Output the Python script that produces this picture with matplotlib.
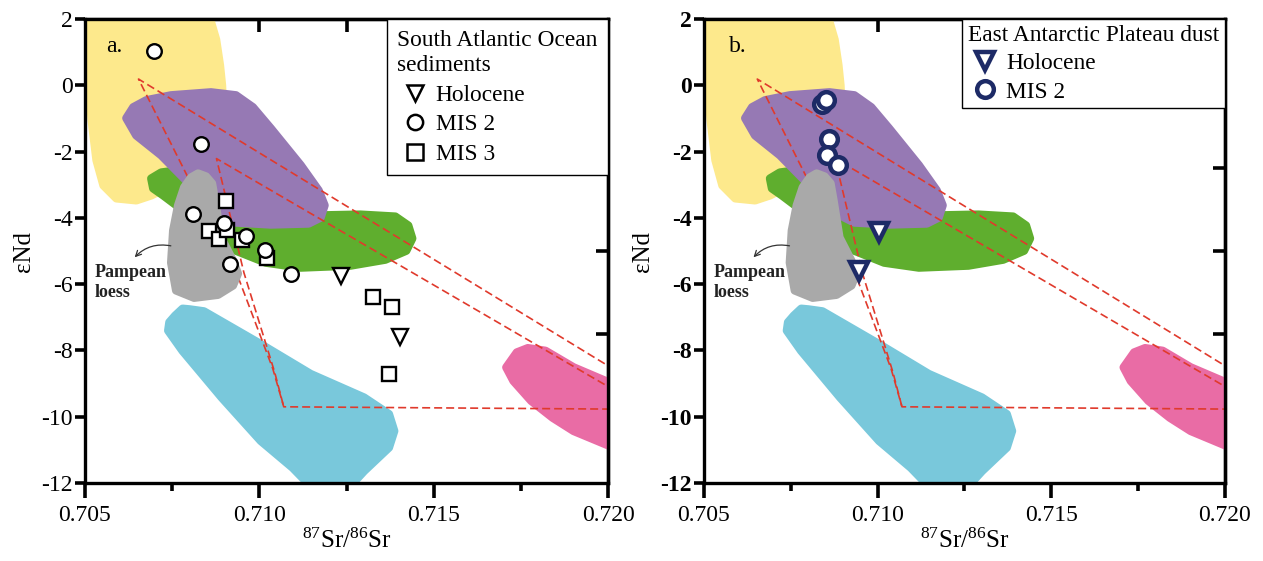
import matplotlib
matplotlib.use("Agg")
import matplotlib.pyplot as plt
from matplotlib.lines import Line2D

plt.rcParams['font.family'] = ['Liberation Serif', 'DejaVu Serif']
plt.rcParams['mathtext.fontset'] = 'custom'
plt.rcParams['mathtext.rm'] = 'Liberation Serif'
plt.rcParams['mathtext.it'] = 'Liberation Serif:italic'
plt.rcParams['axes.unicode_minus'] = False

# ---- source fields (Sr, eNd outlines) ----
yellow_x = [0.7051, 0.70856, 0.70876, 0.70887, 0.70893, 0.70896, 0.70867, 0.70776,
            0.7069, 0.70647, 0.7059, 0.70553, 0.70533, 0.70519, 0.7051]
yellow_y = [2.1, 2.1, 1.38, 0.61, 0.0, -0.76, -1.96, -2.87, -3.32, -3.47, -3.41,
            -3.02, -2.26, -1.05, 0.16]
purple_x = [0.706186, 0.706386, 0.706757, 0.707471, 0.708614, 0.709329, 0.709814,
            0.710329, 0.711186, 0.7117, 0.711871, 0.711757, 0.711414, 0.710329,
            0.709329, 0.708757, 0.7079, 0.707186, 0.706471]
purple_y = [-0.99, -0.66, -0.45, -0.30, -0.21, -0.30, -0.66, -1.30, -2.41, -3.17,
            -3.62, -3.99, -4.17, -4.20, -4.14, -3.84, -2.87, -2.11, -1.51]
green_x = [0.7069, 0.707186, 0.707614, 0.708043, 0.709186, 0.710329, 0.711471,
           0.7129, 0.7139, 0.714271, 0.714386, 0.714214, 0.713614, 0.712614,
           0.711186, 0.710186, 0.709329, 0.708614, 0.7079, 0.707243, 0.706957]
green_y = [-2.81, -2.63, -2.57, -2.63, -3.17, -3.62, -3.93, -3.90, -3.96, -4.23,
           -4.62, -4.99, -5.26, -5.44, -5.50, -5.35, -4.99, -4.53, -3.84, -3.32, -3.11]
gray_x = [0.708243, 0.708471, 0.708643, 0.708729, 0.7089, 0.709243, 0.709386,
          0.709243, 0.708814, 0.708129, 0.707614, 0.707471, 0.707529, 0.707671,
          0.707843, 0.708043]
gray_y = [-2.66, -2.75, -2.96, -3.47, -4.59, -5.29, -5.68, -6.04, -6.32, -6.41,
          -6.19, -5.35, -4.38, -3.62, -3.08, -2.78]
cyan_x = [0.707800, 0.708003, 0.708411, 0.710043, 0.711471, 0.713003, 0.713717,
          0.713869, 0.713717, 0.713003, 0.71247, 0.711614, 0.710957, 0.710043,
          0.70892, 0.707797, 0.707386, 0.707420, 0.707586]
cyan_y = [-6.74, -6.76, -6.82, -7.81, -8.71, -9.42, -9.92, -10.43, -10.93, -11.64,
          -12.25, -12.25, -11.54, -10.73, -9.42, -8.01, -7.40, -7.15, -6.95]
pink_x = [0.717083, 0.717386, 0.7177, 0.718206, 0.719014, 0.720043, 0.720043,
          0.719014, 0.718414, 0.717797, 0.717289]
pink_y = [-8.51, -8.06, -7.93, -8.01, -8.51, -8.97, -10.88, -10.43, -10.03, -9.52, -8.92]

# ---- mixing envelopes (red dashed) ----
outer_x = [0.7202, 0.706534, 0.709386, 0.710386, 0.7107, 0.7202]
outer_y = [-8.59, 0.19, -5.77, -8.55, -9.70, -9.77]
inner_x = [0.7202, 0.708771, 0.709557, 0.710443, 0.7107]
inner_y = [-9.21, -2.21, -5.65, -8.67, -9.70]

# ---- panel a: South Atlantic Ocean sediments ----
holo_a_x = [0.712343, 0.714023]
holo_a_y = [-5.74, -7.59]
mis2_a_x = [0.70699, 0.708323, 0.708094, 0.709, 0.709629, 0.710151, 0.709171, 0.710914]
mis2_a_y = [1.05, -1.76, -3.88, -4.16, -4.56, -4.96, -5.39, -5.69]
mis3_a_x = [0.709043, 0.708549, 0.708834, 0.709071, 0.709491, 0.710234,
            0.713263, 0.713806, 0.713709]
mis3_a_y = [-3.50, -4.38, -4.63, -4.35, -4.68, -5.21, -6.38, -6.68, -8.71]

# ---- panel b: East Antarctic Plateau dust ----
holo_b_x = [0.710037, 0.709462]
holo_b_y = [-4.43, -5.59]
mis2_b_x = [0.708388, 0.708503, 0.708607, 0.708549, 0.708866]
mis2_b_y = [-0.55, -0.43, -1.61, -2.11, -2.41]

xticks = [0.705, 0.710, 0.715, 0.720]
xticklabels = ['0.705', '0.710', '0.715', '0.720']
yticks = [2, 0, -2, -4, -6, -8, -10, -12]

navy = '#1d2a66'


def draw_fields(ax):
    for xs, ys, c, z in [(yellow_x, yellow_y, '#fde98c', 1),
                         (green_x, green_y, '#5fae2e', 2),
                         (purple_x, purple_y, '#9679b4', 3),
                         (cyan_x, cyan_y, '#79c8db', 3),
                         (pink_x, pink_y, '#e96ca5', 3)]:
        ax.fill(xs, ys, color=c, lw=6, joinstyle='round', zorder=z)
    dash = (0, (4.8, 2.4))
    ax.plot(outer_x, outer_y, color='#e03a2c', lw=1.2, ls=dash, zorder=4)
    ax.plot(inner_x, inner_y, color='#e03a2c', lw=1.2, ls=dash, zorder=4)
    ax.fill(gray_x, gray_y, color='#a9a9a9', lw=6, joinstyle='round', zorder=5)
    ax.text(0.70527, -5.40, 'Pampean\nloess', fontsize=13, fontweight='bold',
            va='top', linespacing=1.2, color='#222222', zorder=6)
    ax.annotate('', xy=(0.70637, -5.25), xytext=(0.70754, -4.86),
                arrowprops=dict(arrowstyle='->', color='#333333', lw=0.9,
                                connectionstyle='arc3,rad=0.3'), zorder=6)


def style_axes(ax, top_ticks, right_ticks, bold_y):
    ax.set_xlim(0.705, 0.720)
    ax.set_ylim(-12, 2)
    for s in ax.spines.values():
        s.set_linewidth(2.4)
        s.set_zorder(8)
    ax.set_xticks(xticks)
    ax.set_xticklabels(xticklabels)
    ax.set_yticks(yticks)
    ax.set_yticklabels([str(v) for v in yticks],
                       fontweight='bold' if bold_y else 'normal')
    ax.set_xticks([0.7075, 0.7125, 0.7175], minor=True)
    ax.tick_params(axis='x', which='major', direction='out', length=11, width=2.6,
                   labelsize=17, pad=5)
    ax.tick_params(axis='x', which='minor', direction='out', length=6, width=2.6)
    ax.tick_params(axis='y', which='major', direction='out', length=7, width=2.6,
                   labelsize=17, pad=2)
    ax.set_xlabel(r'$^{87}$Sr/$^{86}$Sr', fontsize=18, labelpad=2)
    ax.set_ylabel('εNd', fontsize=18, labelpad=4)
    top = ax.secondary_xaxis('top')
    top.set_xticks(top_ticks)
    top.tick_params(direction='in', length=9, width=2.6, labeltop=False)
    top.spines['top'].set_linewidth(2.4)
    right = ax.secondary_yaxis('right')
    right.set_yticks(right_ticks)
    right.tick_params(direction='in', length=9, width=2.6, labelright=False)
    right.spines['right'].set_linewidth(2.4)


def add_legend(ax, handles, labels, title, spacing, pad):
    leg = ax.legend(handles, labels, title=title, alignment='left',
                    loc='upper right', bbox_to_anchor=(1, 1), borderaxespad=0,
                    fancybox=False, edgecolor='black', framealpha=1, fontsize=16.8,
                    title_fontsize=16.8, handlelength=1.5, handletextpad=0.15,
                    labelspacing=spacing, borderpad=pad)
    leg.get_title().set_linespacing(1.3)
    leg.get_frame().set_linewidth(1.0)
    leg.set_zorder(10)


fig = plt.figure(figsize=(12.63, 5.61), dpi=100)
ax1 = fig.add_axes([0.0673, 0.139, 0.4141, 0.827])
ax2 = fig.add_axes([0.5574, 0.139, 0.4125, 0.827])

# panel a
draw_fields(ax1)
ax1.plot(holo_a_x, holo_a_y, 'v', ms=11, mfc='white', mec='black', mew=1.7, zorder=7)
ax1.plot(mis3_a_x, mis3_a_y, 's', ms=10, mfc='white', mec='black', mew=1.7, zorder=7)
ax1.plot(mis2_a_x, mis2_a_y, 'o', ms=10.5, mfc='white', mec='black', mew=1.7, zorder=7)
ax1.text(0.705614, 1.0, 'a.', fontsize=17, va='baseline', zorder=7)
style_axes(ax1, [0.7075, 0.710, 0.7125], [-5, -7.5, -10], False)
add_legend(ax1,
           [Line2D([], [], ls='', marker='v', ms=12, mfc='white', mec='black', mew=1.8),
            Line2D([], [], ls='', marker='o', ms=11, mfc='white', mec='black', mew=1.8),
            Line2D([], [], ls='', marker='s', ms=11, mfc='white', mec='black', mew=1.8)],
           ['Holocene', 'MIS 2', 'MIS 3'], 'South Atlantic Ocean\nsediments', 0.35, 0.45)

# panel b
draw_fields(ax2)
ax2.plot(holo_b_x, holo_b_y, 'v', ms=13, mfc='white', mec=navy, mew=3.2, zorder=7)
ax2.plot(mis2_b_x, mis2_b_y, 'o', ms=12, mfc='white', mec=navy, mew=3.2, zorder=7)
ax2.text(0.705705, 1.01, 'b.', fontsize=17, va='baseline', zorder=7)
style_axes(ax2, [0.7075, 0.710], [-2.5, -5, -7.5, -10], True)
add_legend(ax2,
           [Line2D([], [], ls='', marker='v', ms=13, mfc='white', mec=navy, mew=3.2),
            Line2D([], [], ls='', marker='o', ms=12, mfc='white', mec=navy, mew=3.2)],
           ['Holocene', 'MIS 2'], 'East Antarctic Plateau dust', 0.3, 0.25)

fig.savefig('out.png', dpi=100)
